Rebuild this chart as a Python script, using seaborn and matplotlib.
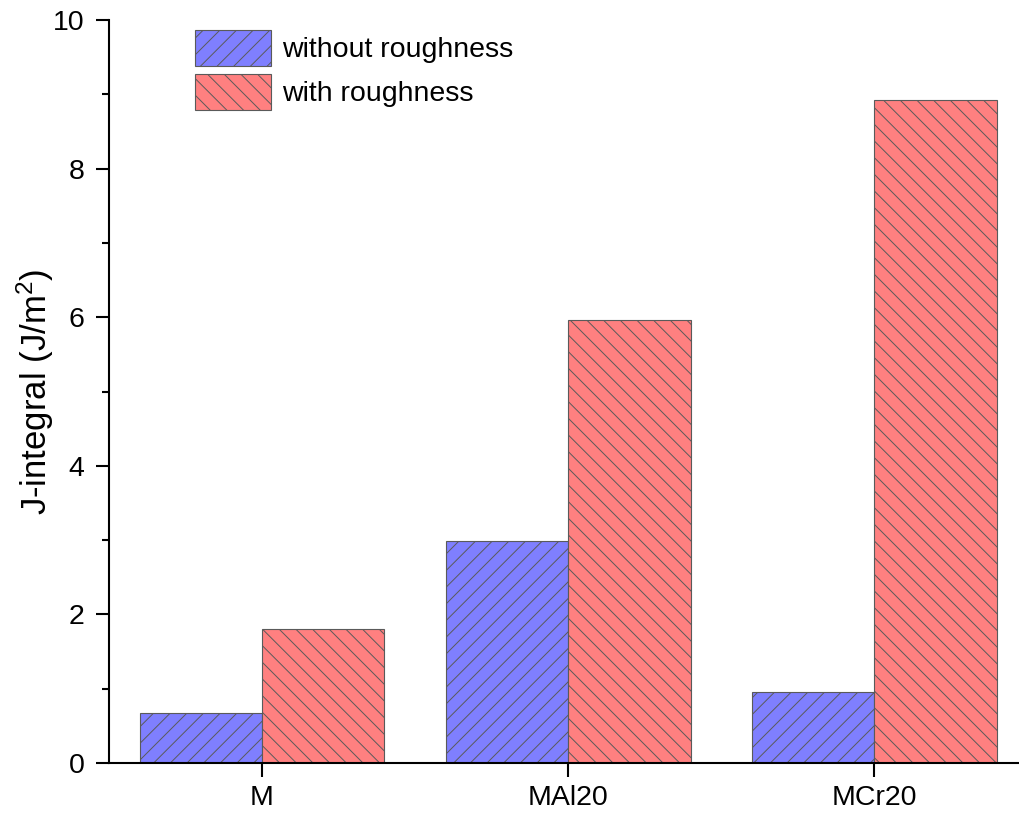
import matplotlib
matplotlib.use("Agg")
import matplotlib.pyplot as plt
from matplotlib.ticker import MultipleLocator
import seaborn as sns
import pandas as pd

categories = ["M", "MAl20", "MCr20"]
without_roughness = [0.67, 2.99, 0.95]
with_roughness = [1.81, 5.96, 8.92]
series_names = ["without roughness", "with roughness"]
y_ticks = [0, 2, 4, 6, 8, 10]

df = pd.DataFrame({
    "category": categories * 2,
    "J": without_roughness + with_roughness,
    "series": [series_names[0]] * len(categories) + [series_names[1]] * len(categories),
})

sns.set_style("white")
plt.rcParams["font.family"] = ["Liberation Sans", "DejaVu Sans"]
plt.rcParams["mathtext.fontset"] = "custom"
plt.rcParams["mathtext.rm"] = "Liberation Sans"
plt.rcParams["mathtext.it"] = "Liberation Sans"
plt.rcParams["hatch.linewidth"] = 0.7
plt.rcParams["text.color"] = "black"
plt.rcParams["axes.labelcolor"] = "black"
plt.rcParams["xtick.color"] = "black"
plt.rcParams["ytick.color"] = "black"

fig = plt.figure(figsize=(10.2, 8.19), dpi=100)
ax = fig.add_axes([109 / 1020, 1 - 763 / 819, (1018 - 109) / 1020, (763 - 20) / 819])

palette = {series_names[0]: "#7F7FFF", series_names[1]: "#FF8080"}
sns.barplot(data=df, x="category", y="J", hue="series", palette=palette,
            saturation=1, width=0.8, order=categories, hue_order=series_names,
            edgecolor="#5a5a5a", linewidth=0.8, legend=False, ax=ax)

hatches = ["//", "\\\\"]
for container, h in zip(ax.containers, hatches):
    for bar in container:
        bar.set_hatch(h)

ax.set_xlim(-0.5, 2.47)
ax.set_ylim(0, 10)
ax.set_yticks(y_ticks)
ax.yaxis.set_minor_locator(MultipleLocator(1))

for side in ["top", "right"]:
    ax.spines[side].set_visible(False)
for side in ["left", "bottom"]:
    ax.spines[side].set_linewidth(1.5)
    ax.spines[side].set_color("black")

ax.tick_params(axis="y", which="major", direction="out", length=9.5, width=1.5,
               labelsize=20.5, pad=8, left=True, labelcolor="black")
ax.tick_params(axis="y", which="minor", direction="out", length=5, width=1.5, left=True)
ax.tick_params(axis="x", which="major", direction="out", length=10, width=1.5,
               labelsize=20.5, pad=6, bottom=True, labelcolor="black")

ax.set_xlabel("")
ax.set_ylabel("J-integral (J/m$^2$)", fontsize=25, labelpad=-2, color="black")

ax.legend(ax.containers, series_names, loc="upper left",
          bbox_to_anchor=(192 / 1020, 1 - 27 / 819), bbox_transform=fig.transFigure,
          frameon=False, fontsize=20.5, handlelength=2.67, handleheight=1.55,
          labelspacing=0.3, handletextpad=0.4, borderaxespad=0, borderpad=0.1)

fig.savefig("out.png", dpi=100)
